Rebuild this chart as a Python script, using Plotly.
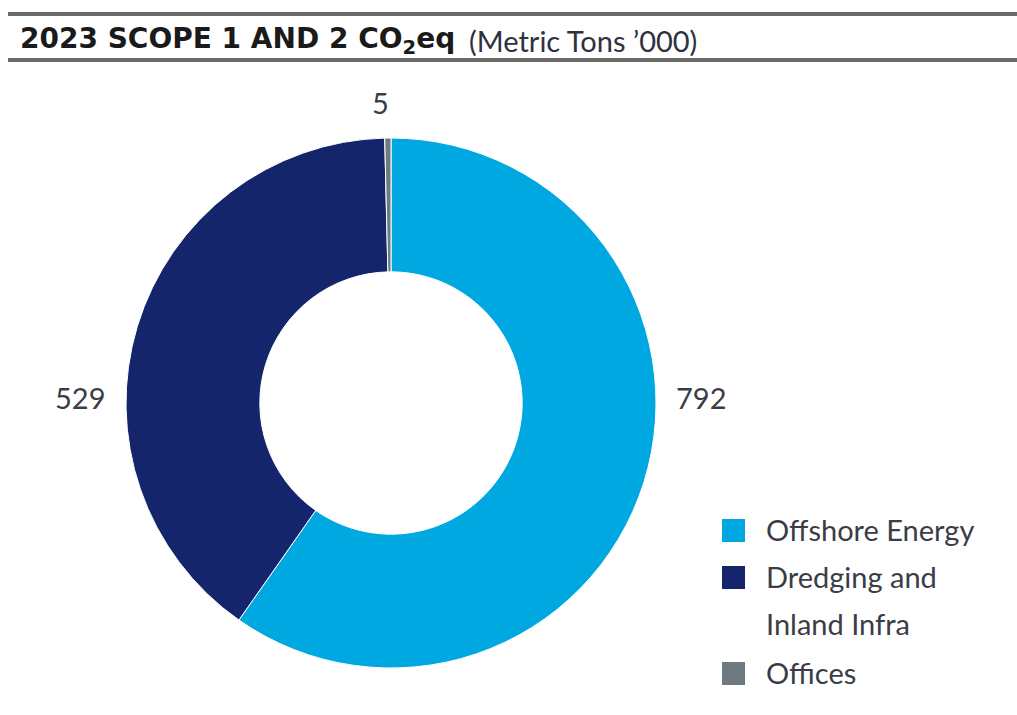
import plotly.graph_objects as go

# Scope 1 and 2 emissions by business line (metric tons, thousands)
segments = ["Offshore Energy", "Dredging and Inland Infra", "Offices"]
legend_lines = [["Offshore Energy"], ["Dredging and", "Inland Infra"], ["Offices"]]
emissions = [792, 529, 5]
colors = ["#00A8E1", "#14256B", "#6D7A80"]

W, H = 1017, 715
cx, cy, r = 391, 403, 265  # pie centre and radius in pixels

fig = go.Figure()
fig.add_trace(go.Pie(
    labels=segments,
    values=emissions,
    hole=0.495,
    sort=False,
    direction="clockwise",
    rotation=0,
    marker=dict(colors=colors, line=dict(color="white", width=1)),
    textinfo="none",
    hoverinfo="label+value",
    showlegend=False,
    domain=dict(x=[(cx - r) / W, (cx + r) / W], y=[(H - cy - r) / H, (H - cy + r) / H]),
))

ann = []
TEXT = "#3a3d45"
# Value labels: Offshore on the right, Dredging on the left, Offices above the top
placements = {
    "Offshore Energy": (cx + r + 45, cy - 6),
    "Dredging and Inland Infra": (cx - r - 46, cy - 6),
    "Offices": (cx - 11, cy - r - 35),
}
for name, v in zip(segments, emissions):
    px, py = placements[name]
    ann.append(dict(x=px / W, y=1 - py / H, xref="paper", yref="paper", text=str(v),
                    showarrow=False, xanchor="center", yanchor="middle",
                    font=dict(family="Lato", size=29, color=TEXT)))

# Title
ann.append(dict(
    x=18 / W, y=1 - 41 / H, xref="paper", yref="paper", xanchor="left", yanchor="middle",
    showarrow=False,
    text="<b>2023 SCOPE 1 AND 2 CO<sub>2</sub>eq</b>",
    font=dict(family="DejaVu Sans", size=28, color="#1a1a1a"),
))
ann.append(dict(
    x=467 / W, y=1 - 41 / H, xref="paper", yref="paper", xanchor="left", yanchor="middle",
    showarrow=False,
    text="(Metric Tons ’000)",
    font=dict(family="Lato", size=29, color="#2e3140"),
))

shapes = [
    dict(type="line", xref="paper", yref="paper", x0=8 / W, x1=1, y0=1 - 14 / H, y1=1 - 14 / H,
         line=dict(color="#6a6a6a", width=4)),
    dict(type="line", xref="paper", yref="paper", x0=8 / W, x1=1, y0=1 - 60 / H, y1=1 - 60 / H,
         line=dict(color="#6a6a6a", width=4)),
]

# Legend drawn as swatches and text
legend_rows = [531, 578, 674]
line_gap = 47
for lines, col, ly in zip(legend_lines, colors, legend_rows):
    shapes.append(dict(type="rect", xref="paper", yref="paper",
                       x0=722 / W, x1=745 / W, y0=1 - (ly + 11) / H, y1=1 - (ly - 12) / H,
                       fillcolor=col, line=dict(width=0)))
    for i, txt in enumerate(lines):
        ann.append(dict(x=764 / W, y=1 - (ly - 2 + i * line_gap) / H, xref="paper", yref="paper",
                        xanchor="left", yanchor="middle", text=txt, showarrow=False,
                        font=dict(family="Lato", size=29, color=TEXT)))

fig.update_layout(
    width=W, height=H,
    margin=dict(l=0, r=0, t=0, b=0),
    paper_bgcolor="white", plot_bgcolor="white",
    annotations=ann, shapes=shapes,
)

fig.write_html("out.html")
